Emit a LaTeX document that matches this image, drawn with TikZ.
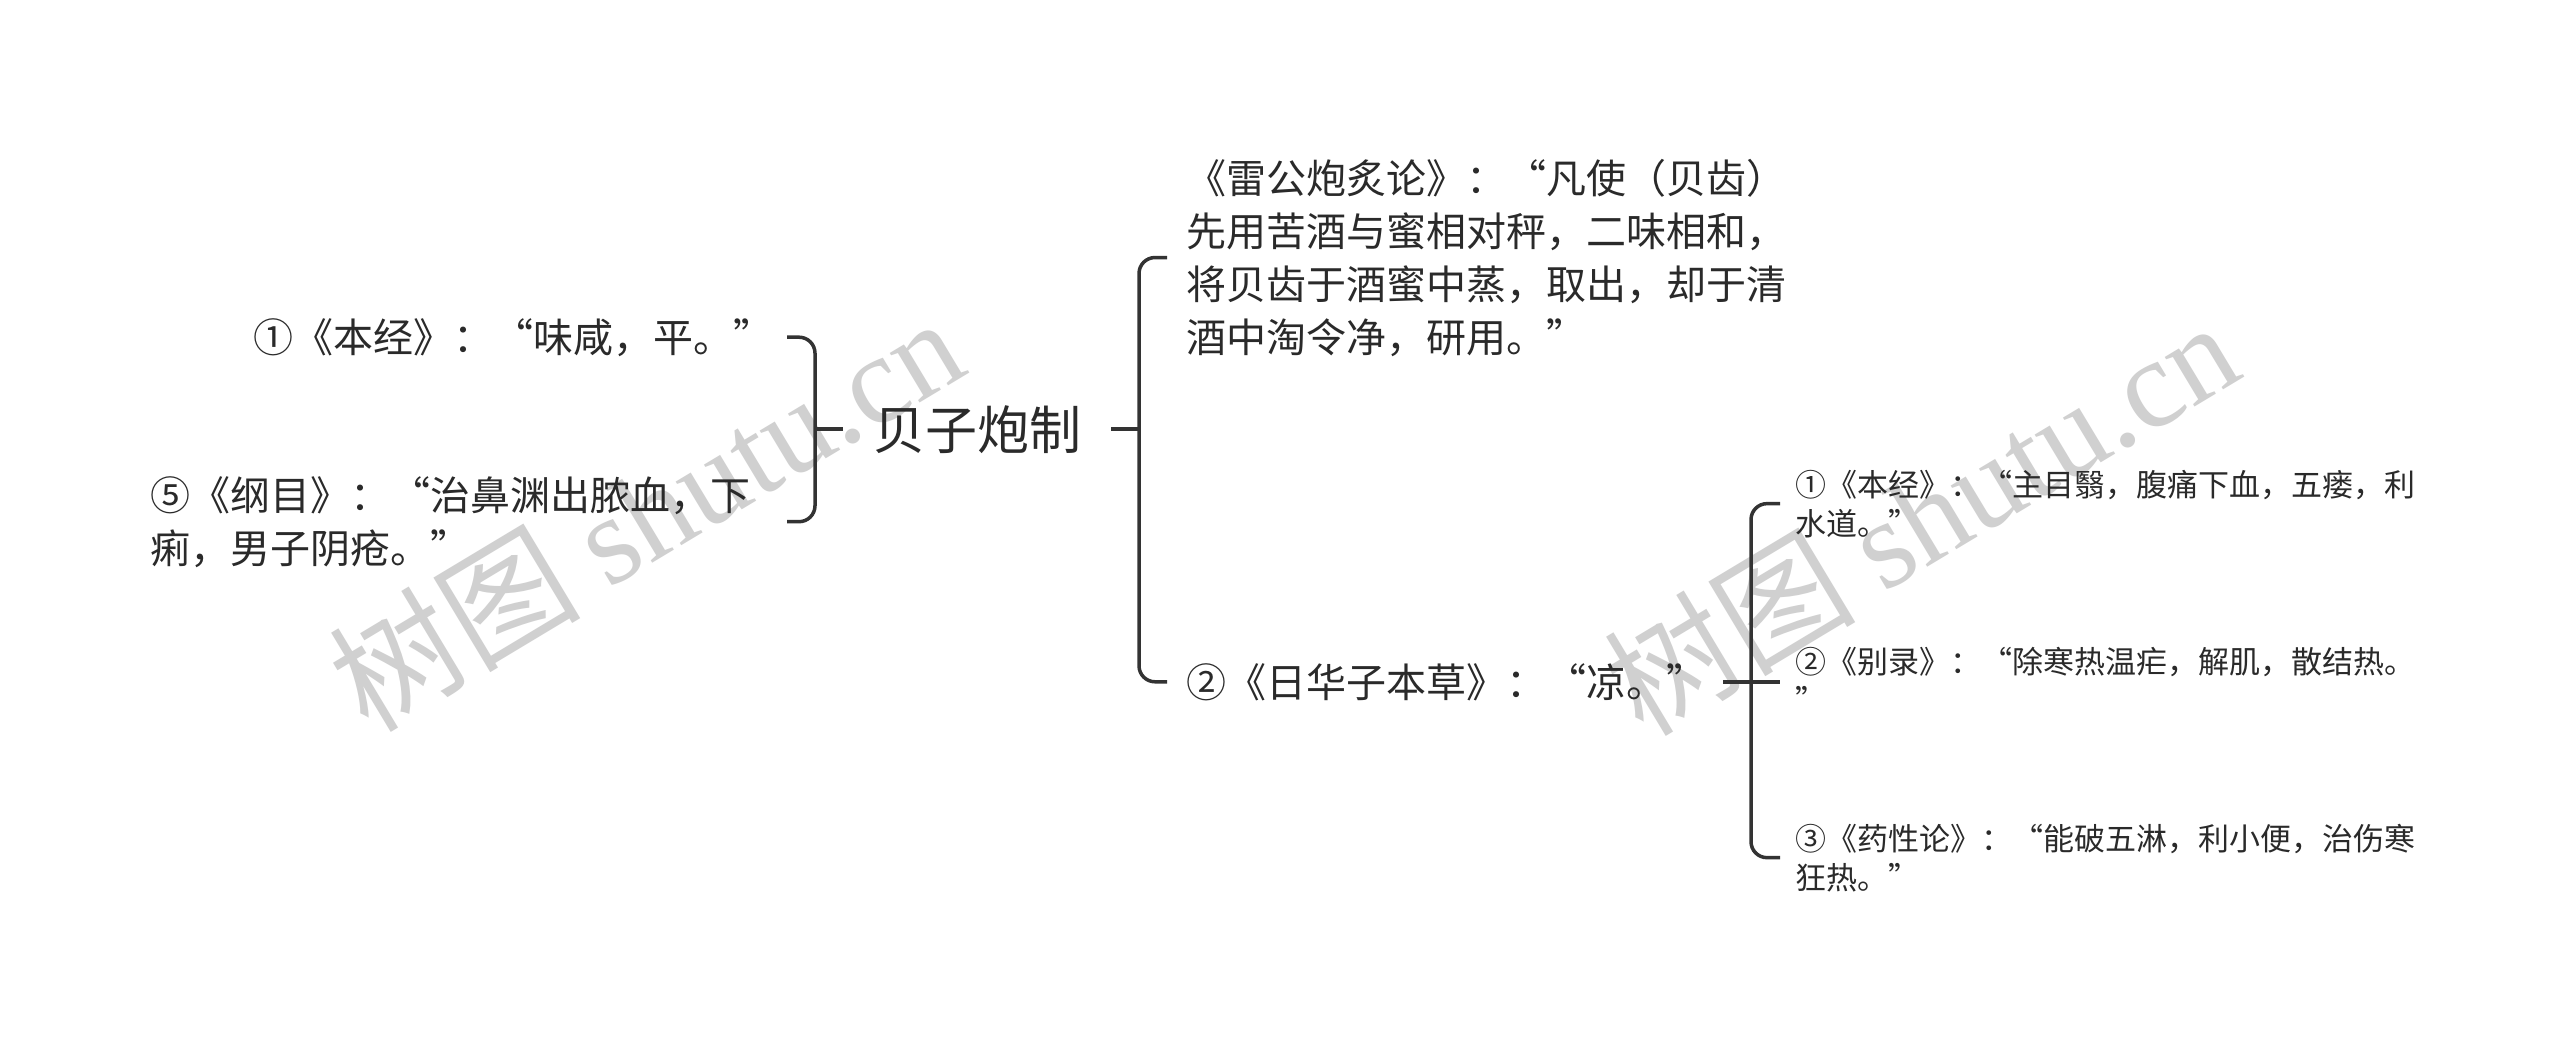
\documentclass[tikz,border=0pt]{standalone}
\usepackage{fontspec}
\setmainfont{Noto Sans CJK SC}
\newfontfamily\wmlatin{Liberation Serif}
\definecolor{ink}{HTML}{2A2A2A}
\definecolor{linec}{HTML}{333333}
\definecolor{wm}{RGB}{208,208,208}
\begin{document}
\begin{tikzpicture}[x=1pt,y=-1pt,
  conn/.style={draw=linec,line width=3.5pt,rounded corners=16pt},
  txt/.style={inner sep=0pt,outer sep=0pt,text=ink,anchor=base west},
  rootfont/.style={font=\fontsize{52}{62}\selectfont},
  midfont/.style={font=\fontsize{40}{53}\selectfont},
  smallfont/.style={font=\fontsize{31}{39}\selectfont},
  wmark/.style={text=wm,rotate=31,inner sep=0pt,font=\fontsize{126}{126}\selectfont}]
\useasboundingbox (0,0) rectangle (2560,1044);
\fill[white] (0,0) rectangle (2560,1044);

% watermarks
\node[wmark] (wm1) at (645,512) {树图 {\wmlatin shutu.cn}};
\node[wmark] (wm2) at (1920,516) {树图 {\wmlatin shutu.cn}};

% root
\node[txt,rootfont,anchor=base,inner xsep=30pt] (root) at (977,449) {贝子炮制};

% left children
\node[txt,midfont] (c1) at (253,352) {①《本经》：“味咸，平。”};
\node[txt,midfont,text width=620pt,align=left] (c2) at (150,510)
  {⑤《纲目》：“治鼻渊出脓血，下\\痢，男子阴疮。”};

% right children
\node[txt,midfont,text width=620pt,align=left] (c3) at (1186,193)
  {《雷公炮炙论》：“凡使（贝齿）\\先用苦酒与蜜相对秤，二味相和，\\将贝齿于酒蜜中蒸，取出，却于清\\酒中淘令净，研用。”};
\node[txt,midfont] (c4) at (1186,697) {②《日华子本草》：“凉。”};

% grandchildren
\node[txt,smallfont,text width=640pt,align=left] (g1) at (1795,496)
  {①《本经》：“主目翳，腹痛下血，五瘘，利\\水道。”};
\node[txt,smallfont,text width=640pt,align=left] (g2) at (1795,673)
  {②《别录》：“除寒热温疟，解肌，散结热。\\”};
\node[txt,smallfont,text width=640pt,align=left] (g3) at (1795,850)
  {③《药性论》：“能破五淋，利小便，治伤寒\\狂热。”};

% connectors
\coordinate (Lj) at ([xshift=-28pt]root.west);
\coordinate (Rj) at ([xshift=28pt]root.east);
\draw[conn] (root.west) -- (Lj);
\draw[conn] ([xshift=-28pt]Lj |- c1) -| (Lj) |- ([xshift=-28pt]Lj |- c2);
\draw[conn] (root.east) -- (Rj);
\draw[conn] ([xshift=28pt]Rj |- c3) -| (Rj) |- ([xshift=28pt]Rj |- c4);

\coordinate (Gj) at (1751,0 |- c4);
\draw[conn] (1723,0 |- c4) -- (1780,0 |- c4);
\draw[conn] (1780,0 |- g1) -| (Gj) |- (1780,0 |- g3);
\end{tikzpicture}
\end{document}
